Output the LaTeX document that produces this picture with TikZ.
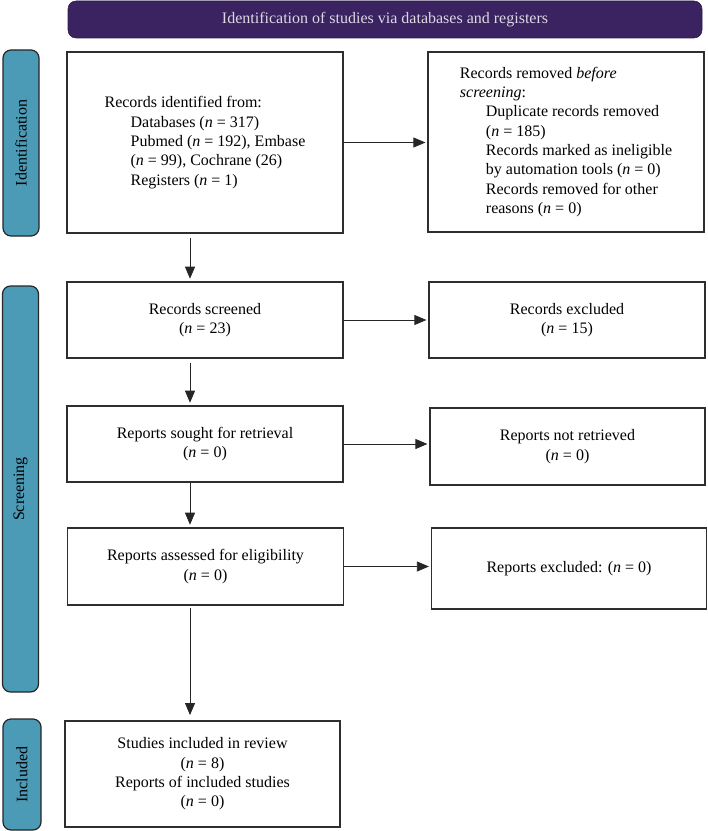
\documentclass[tikz,border=0pt]{standalone}
\usepackage{fontspec}
\setmainfont{Liberation Serif}
\usetikzlibrary{positioning,arrows.meta}
\definecolor{BannerPurple}{HTML}{3B2260}
\definecolor{StageBlue}{HTML}{4B9BB7}
\definecolor{BoxLine}{HTML}{2E2E2E}
\definecolor{BannerText}{HTML}{DCD8E4}

\begin{document}
\begin{tikzpicture}[x=0.75pt,y=-0.75pt,
      box/.style={draw=BoxLine,line width=0.9pt,minimum width=207pt,align=center,inner sep=0pt},
      stage/.style={draw=black!85,fill=StageBlue,rounded corners=6pt,line width=0.9pt,rotate=90,minimum height=27pt,inner sep=0pt},
      banner/.style={draw=BannerPurple!80!black,fill=BannerPurple,rounded corners=6pt,text=BannerText,inner sep=0pt},
      arr/.style={-{Triangle[length=9pt,width=7.5pt]},line width=0.6pt,black!85},
      every node/.style={font=\fontsize{12}{14.5}\selectfont}]
    \useasboundingbox (0,0) rectangle (707,831);
    % header and stage bars
    \node[banner,minimum width=475.5pt,minimum height=27.75pt] (title) at (385,19.5) {Identification of studies via databases and registers};
    \node[stage,minimum width=139.5pt] (sident) at (21,143) {Identification};
    \node[stage,minimum width=304.5pt] (sscreen) at (20.5,489) {Screening};
    \node[stage,minimum width=83.25pt,minimum height=28.5pt] (sincl) at (22,774.5) {Included};
    % left column
    \node[box,minimum height=135.75pt,align=left] (ident) at (205,142.5) {Records identified from:\\
      \hspace*{19.5pt}Databases (\textit{n} = 317)\\
      \hspace*{19.5pt}Pubmed (\textit{n} = 192), Embase\\
      \hspace*{19.5pt}(\textit{n} = 99), Cochrane (26)\\
      \hspace*{19.5pt}Registers (\textit{n} = 1)};
    \node[box,minimum height=57pt] (screened) at (205,320) {Records screened\\(\textit{n} = 23)};
    \node[box,minimum height=57pt] (sought) at (205,444) {Reports sought for retrieval\\(\textit{n} = 0)};
    \node[box,minimum height=57.75pt] (assessed) at (205.5,566.5) {Reports assessed for eligibility\\(\textit{n} = 0)};
    \node[box,minimum width=206.25pt,minimum height=79.5pt] (included) at (202.5,774) {Studies included in review\\(\textit{n} = 8)\\Reports of included studies\\(\textit{n} = 0)};
    % right column
    \node[box,minimum height=135pt,align=left] (removed) at (566,142) {Records removed \textit{before}\\
      \textit{screening}:\\
      \hspace*{19.5pt}Duplicate records removed\\
      \hspace*{19.5pt}(\textit{n} = 185)\\
      \hspace*{19.5pt}Records marked as ineligible\\
      \hspace*{19.5pt}by automation tools (\textit{n} = 0)\\
      \hspace*{19.5pt}Records removed for other\\
      \hspace*{19.5pt}reasons (\textit{n} = 0)};
    \node[box,minimum height=57pt] (excluded) at (567,320) {Records excluded\\(\textit{n} = 15)};
    \node[box,minimum width=206.25pt,minimum height=57.75pt] (notretr) at (567.5,446.5) {Reports not retrieved\\(\textit{n} = 0)};
    \node[box,minimum width=206.25pt,minimum height=60.75pt] (repexcl) at (569,568.5) {Reports excluded: (\textit{n} = 0)};
    % arrows
    \coordinate (colx) at (190,0);
    \draw[arr,shorten <=3pt,shorten >=2pt] (ident.south -| colx) -- (screened.north -| colx);
    \draw[arr,shorten <=3pt,shorten >=2pt] (screened.south -| colx) -- (sought.north -| colx);
    \draw[arr,shorten >=2pt] (sought.south -| colx) -- (assessed.north -| colx);
    \draw[arr,shorten <=2pt,shorten >=4pt] (assessed.south -| colx) -- (included.north -| colx);
    \draw[arr,shorten >=1.5pt] (ident.east) -- (ident.east -| removed.west);
    \draw[arr,shorten >=1.5pt] (screened.east) -- (screened.east -| excluded.west);
    \draw[arr,shorten >=1.5pt] (sought.east) -- (sought.east -| notretr.west);
    \draw[arr,shorten >=1.5pt] (assessed.east) -- (assessed.east -| repexcl.west);
  \end{tikzpicture}
\end{document}
